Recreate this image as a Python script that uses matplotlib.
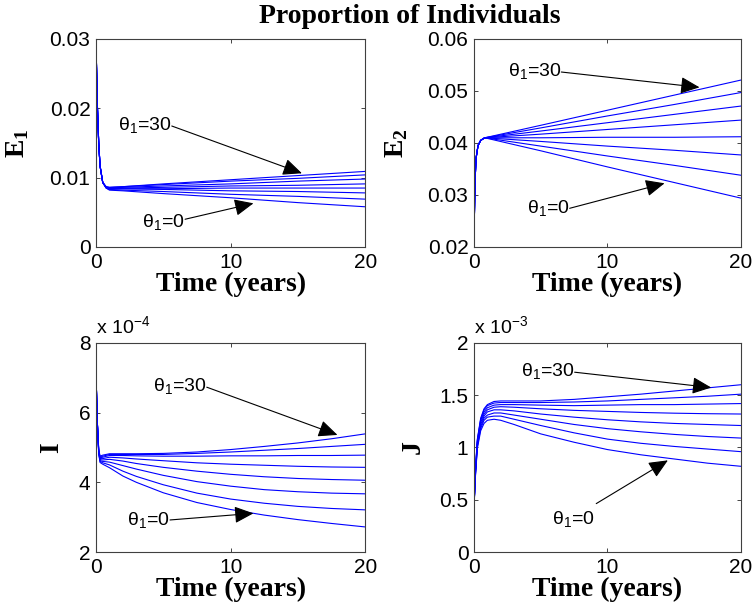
import numpy as np
import matplotlib as mpl
mpl.use('Agg')
import matplotlib.pyplot as plt

plt.rcParams['font.family'] = ['Liberation Sans', 'DejaVu Sans']
plt.rcParams['mathtext.fontset'] = 'custom'
plt.rcParams['mathtext.rm'] = 'Liberation Sans'
plt.rcParams['mathtext.it'] = 'Liberation Sans:italic'
plt.rcParams['mathtext.bf'] = 'Liberation Serif:bold'

# ---- data (theta_1 = 0 ... 30, bottom curve first) ----
t_E1 = [0, 0.1, 0.2, 0.3, 0.5, 0.75, 1, 2, 5, 10, 15, 20]
E1 = [
    [0.0294, 0.0205, 0.0150, 0.0117, 0.0093, 0.0085, 0.0082, 0.0081, 0.0077, 0.0071, 0.0064, 0.0058],
    [0.0294, 0.0205, 0.0150, 0.0117, 0.0093, 0.0085, 0.0083, 0.0082, 0.0080, 0.0076, 0.0073, 0.0069],
    [0.0294, 0.0205, 0.0150, 0.0117, 0.0093, 0.0086, 0.0084, 0.0084, 0.0083, 0.0081, 0.0080, 0.0078],
    [0.0294, 0.0205, 0.0150, 0.0117, 0.0093, 0.0086, 0.0084, 0.0084, 0.0084, 0.0085, 0.0085, 0.0085],
    [0.0294, 0.0205, 0.0150, 0.0117, 0.0093, 0.0086, 0.0085, 0.0085, 0.0086, 0.0088, 0.0089, 0.0091],
    [0.0294, 0.0205, 0.0150, 0.0117, 0.0093, 0.0086, 0.0085, 0.0086, 0.0088, 0.0091, 0.0095, 0.0098],
    [0.0294, 0.0205, 0.0150, 0.0117, 0.0093, 0.0087, 0.0086, 0.0087, 0.0090, 0.0095, 0.0099, 0.0104],
    [0.0294, 0.0205, 0.0150, 0.0117, 0.0093, 0.0087, 0.0086, 0.0087, 0.0091, 0.0097, 0.0103, 0.0109],
]

t_E2 = [0, 0.03, 0.07, 0.15, 0.3, 0.5, 0.8, 5, 10, 15, 20]
E2 = [
    [0.020, 0.026, 0.032, 0.037, 0.0395, 0.0405, 0.0410, 0.0385, 0.0354, 0.0324, 0.0294],
    [0.020, 0.026, 0.032, 0.037, 0.0395, 0.0405, 0.0410, 0.0394, 0.0375, 0.0357, 0.0338],
    [0.020, 0.026, 0.032, 0.037, 0.0395, 0.0405, 0.0410, 0.0403, 0.0394, 0.0386, 0.0377],
    [0.020, 0.026, 0.032, 0.037, 0.0395, 0.0405, 0.0410, 0.0410, 0.0411, 0.0411, 0.0412],
    [0.020, 0.026, 0.032, 0.037, 0.0395, 0.0405, 0.0410, 0.0417, 0.0426, 0.0435, 0.0444],
    [0.020, 0.026, 0.032, 0.037, 0.0395, 0.0405, 0.0410, 0.0423, 0.0439, 0.0455, 0.0471],
    [0.020, 0.026, 0.032, 0.037, 0.0395, 0.0405, 0.0410, 0.0429, 0.0452, 0.0474, 0.0497],
    [0.020, 0.026, 0.032, 0.037, 0.0395, 0.0405, 0.0410, 0.0434, 0.0463, 0.0492, 0.0521],
]

# I in units of 1e-4
t_I = [0, 0.1, 0.2, 0.3, 0.5, 1, 2, 3, 5, 7.5, 10, 12.5, 15, 17.5, 20]
I = [
    [7.1, 5.7, 4.82, 4.57, 4.52, 4.42, 4.18, 4.00, 3.70, 3.42, 3.22, 3.06, 2.93, 2.82, 2.72],
    [7.1, 5.7, 4.84, 4.60, 4.56, 4.50, 4.32, 4.17, 3.93, 3.69, 3.52, 3.40, 3.31, 3.25, 3.21],
    [7.1, 5.7, 4.86, 4.62, 4.60, 4.58, 4.48, 4.38, 4.20, 4.02, 3.89, 3.79, 3.73, 3.69, 3.67],
    [7.1, 5.7, 4.88, 4.65, 4.64, 4.66, 4.61, 4.54, 4.43, 4.32, 4.23, 4.16, 4.11, 4.08, 4.06],
    [7.1, 5.7, 4.90, 4.68, 4.68, 4.72, 4.70, 4.67, 4.62, 4.56, 4.52, 4.49, 4.46, 4.44, 4.43],
    [7.1, 5.7, 4.92, 4.70, 4.72, 4.77, 4.77, 4.76, 4.75, 4.75, 4.76, 4.76, 4.77, 4.77, 4.78],
    [7.1, 5.7, 4.93, 4.72, 4.75, 4.80, 4.80, 4.80, 4.80, 4.83, 4.87, 4.92, 4.97, 5.03, 5.09],
    [7.1, 5.7, 4.95, 4.75, 4.78, 4.82, 4.82, 4.82, 4.83, 4.87, 4.94, 5.03, 5.13, 5.25, 5.39],
]

# J in units of 1e-3
t_J = [0, 0.1, 0.25, 0.5, 0.75, 1, 1.5, 2, 3, 5, 7.5, 10, 12.5, 15, 17.5, 20]
J = [
    [0.43, 0.71, 0.99, 1.16, 1.23, 1.26, 1.27, 1.26, 1.22, 1.13, 1.05, 0.98, 0.93, 0.89, 0.85, 0.82],
    [0.43, 0.72, 1.01, 1.18, 1.26, 1.29, 1.30, 1.30, 1.27, 1.21, 1.14, 1.08, 1.04, 1.01, 0.985, 0.96],
    [0.43, 0.73, 1.02, 1.20, 1.28, 1.31, 1.33, 1.33, 1.31, 1.27, 1.22, 1.18, 1.15, 1.125, 1.105, 1.09],
    [0.43, 0.74, 1.04, 1.22, 1.30, 1.34, 1.36, 1.36, 1.35, 1.32, 1.29, 1.265, 1.245, 1.23, 1.22, 1.21],
    [0.43, 0.75, 1.05, 1.24, 1.32, 1.36, 1.385, 1.39, 1.385, 1.37, 1.355, 1.345, 1.335, 1.328, 1.323, 1.32],
    [0.43, 0.76, 1.06, 1.26, 1.34, 1.38, 1.405, 1.41, 1.41, 1.405, 1.40, 1.405, 1.41, 1.41, 1.415, 1.42],
    [0.43, 0.77, 1.07, 1.27, 1.36, 1.40, 1.425, 1.43, 1.43, 1.43, 1.435, 1.445, 1.46, 1.475, 1.49, 1.51],
    [0.43, 0.78, 1.08, 1.28, 1.37, 1.41, 1.44, 1.445, 1.445, 1.445, 1.46, 1.485, 1.51, 1.54, 1.57, 1.60],
]

x_ticks = [0, 10, 20]
label_30 = 'θ$_1$=30'
label_0 = 'θ$_1$=0'

serif = 'Liberation Serif'

fig = plt.figure(figsize=(7.56, 6.15), dpi=100)

# panel boxes in figure fractions
boxes = [
    [0.127, 0.5984, 0.356, 0.3382],
    [0.627, 0.5984, 0.353, 0.3382],
    [0.127, 0.1024, 0.356, 0.3400],
    [0.627, 0.1024, 0.353, 0.3400],
]

panels = [
    (t_E1, E1, (0, 0.03), [0, 0.01, 0.02, 0.03], ['0', '0.01', '0.02', '0.03'],
     r'$\mathbf{E}_\mathbf{1}$', -0.24, None,
     # text end / arrow start, arrow tip for theta=30 then theta=0
     ((5.63, 0.01688), (5.63, 0.01745), (15.3, 0.01063)),
     ((6.62, 0.00293), (6.62, 0.0040), (11.7, 0.0063))),
    (t_E2, E2, (0.02, 0.06), [0.02, 0.03, 0.04, 0.05, 0.06], ['0.02', '0.03', '0.04', '0.05', '0.06'],
     r'$\mathbf{E}_\mathbf{2}$', -0.24, None,
     ((6.54, 0.05288), (6.54, 0.05365), (16.9, 0.0507)),
     ((7.17, 0.02648), (7.17, 0.02744), (14.28, 0.03225))),
    (t_I, I, (2, 8), [2, 4, 6, 8], ['2', '4', '6', '8'],
     'I', -0.12, r'x 10$^{-4}$',
     ((8.23, 6.61), (8.23, 6.73), (17.94, 5.36)),
     ((5.50, 2.78), (5.50, 2.92), (11.70, 3.11))),
    (t_J, J, (0, 2), [0, 0.5, 1, 1.5, 2], ['0', '0.5', '1', '1.5', '2'],
     'J', -0.18, r'x 10$^{-3}$',
     ((7.54, 1.681), (7.54, 1.72), (17.78, 1.573)),
     ((9.03, 0.265), (9.16, 0.463), (14.53, 0.877))),
]

for box, (t, curves, ylim, yt, ytl, ylab, ylab_x, offset, a30, a0) in zip(boxes, panels):
    ax = fig.add_axes(box)
    for c in curves:
        ax.plot(t, c, color='#0000ff', lw=0.8)
    ax.set_xlim(0, 20)
    ax.set_ylim(*ylim)
    ax.set_xticks(x_ticks)
    ax.set_xticklabels([str(v) for v in x_ticks])
    ax.set_yticks(yt)
    ax.set_yticklabels(ytl)
    ax.tick_params(direction='in', top=True, right=True, length=3, width=0.6,
                   labelsize=15, pad=4, colors='#262626', labelcolor='black')
    for s in ax.spines.values():
        s.set_color('#404040')
        s.set_linewidth(0.8)

    ax.set_xlabel('Time (years)', fontsize=20, fontweight='bold', family=serif, labelpad=0)
    if ylab.startswith('$'):
        ax.set_ylabel(ylab, fontsize=20)
    else:
        ax.set_ylabel(ylab, fontsize=20, fontweight='bold', family=serif)
    ax.yaxis.set_label_coords(ylab_x, 0.5)

    if offset:
        ax.text(0.0, 1.045, offset, transform=ax.transAxes, fontsize=14,
                ha='left', va='baseline')

    for txt, (tpos, start, tip) in ((label_30, a30), (label_0, a0)):
        ax.text(tpos[0], tpos[1], txt, fontsize=14, ha='right', va='baseline')
        ax.annotate('', xy=tip, xytext=start,
                    arrowprops=dict(arrowstyle='-|>,head_length=0.9,head_width=0.4',
                                    color='black', lw=0.8, shrinkA=0, shrinkB=0,
                                    mutation_scale=13))

fig.text(410 / 756, 1 - 23 / 615, 'Proportion of Individuals', ha='center', va='baseline',
         fontsize=20, fontweight='bold', family=serif)

fig.savefig('out.png', dpi=100)
plt.close(fig)
